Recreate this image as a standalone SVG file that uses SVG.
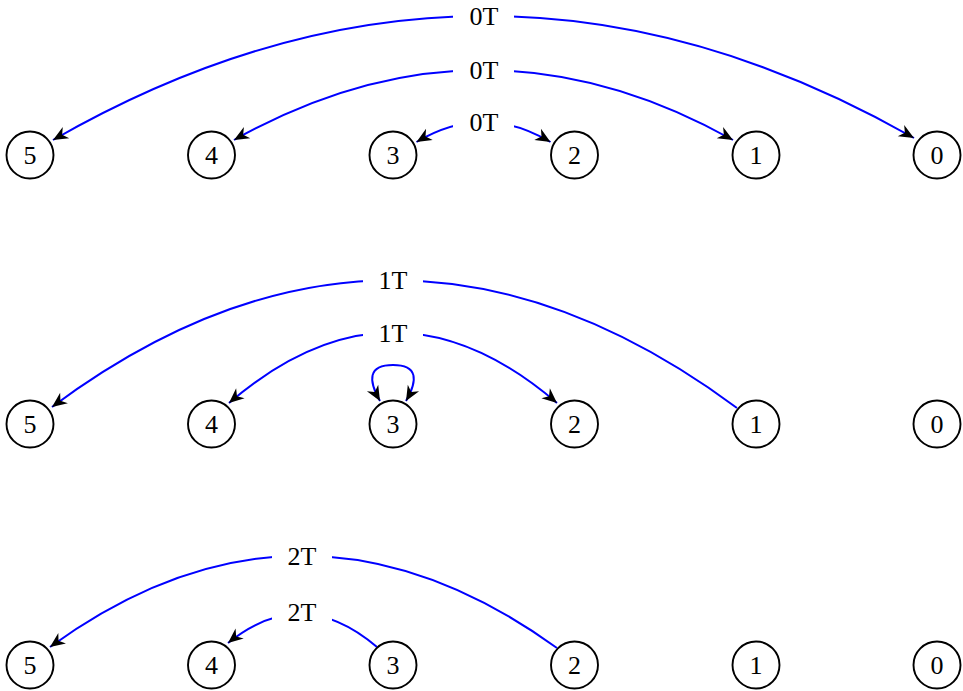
<svg xmlns="http://www.w3.org/2000/svg" width="963" height="691" viewBox="0 0 963 691">
<defs>
<marker id="arr" markerUnits="userSpaceOnUse" viewBox="-17 -10 20 20" refX="0" refY="0" markerWidth="20" markerHeight="20" orient="auto-start-reverse" overflow="visible">
<path d="M0,0 L-15,-6.5 L-10.5,0 L-15,6.5 Z" fill="#000"/>
</marker>
<style>
.node circle{fill:#fff;stroke:#000;stroke-width:1.9}
.node text,.lbl text{font-family:"Liberation Serif","Times New Roman",serif;font-size:26px;fill:#000;text-anchor:middle}
.e{fill:none;stroke:#0000ff;stroke-width:2}
.lbl rect{fill:#fff}
</style>
</defs>
<rect width="963" height="691" fill="#fff"/>
<g id="connectors">
<path class="e" d="M914,138 Q483.5,-107 53,140" marker-start="url(#arr)" marker-end="url(#arr)"/>
<path class="e" d="M733,140 Q483.5,0 234,140" marker-start="url(#arr)" marker-end="url(#arr)"/>
<path class="e" d="M550.5,142 Q483.5,102 416.5,142" marker-start="url(#arr)" marker-end="url(#arr)"/>
<path class="e" d="M737,408 Q393,153 52,407" marker-end="url(#arr)"/>
<path class="e" d="M557,403 Q393,262 229,403" marker-start="url(#arr)" marker-end="url(#arr)"/>
<path class="e" d="M380,401 C368,380 368,365 393,365 C418,365 418,380 406,401" marker-start="url(#arr)" marker-end="url(#arr)"/>
<path class="e" d="M557,648 Q302,464 50,647" marker-end="url(#arr)"/>
<path class="e" d="M377,647 Q302,583 228,643" marker-end="url(#arr)"/>
</g>
<g id="labels" class="lbl">
<g id="l0a"><rect x="453" y="4" width="61" height="24"/><text x="484" y="25">0T</text></g>
<g id="l0b"><rect x="453" y="58" width="61" height="24"/><text x="484" y="79">0T</text></g>
<g id="l0c"><rect x="453" y="110" width="61" height="24"/><text x="484" y="131">0T</text></g>
<g id="l1a"><rect x="363" y="268" width="60" height="24"/><text x="393" y="289">1T</text></g>
<g id="l1b"><rect x="363" y="321" width="60" height="24"/><text x="393" y="342">1T</text></g>
<g id="l2a"><rect x="272" y="544" width="60" height="24"/><text x="302" y="565">2T</text></g>
<g id="l2b"><rect x="272" y="600" width="60" height="24"/><text x="302" y="621">2T</text></g>
</g>
<g id="r1n5" class="node"><circle cx="30" cy="155" r="23.5"/><text x="30" y="164">5</text></g>
<g id="r1n4" class="node"><circle cx="211.5" cy="155" r="23.5"/><text x="211.5" y="164">4</text></g>
<g id="r1n3" class="node"><circle cx="393" cy="155" r="23.5"/><text x="393" y="164">3</text></g>
<g id="r1n2" class="node"><circle cx="574.5" cy="155" r="23.5"/><text x="574.5" y="164">2</text></g>
<g id="r1n1" class="node"><circle cx="756" cy="155" r="23.5"/><text x="756" y="164">1</text></g>
<g id="r1n0" class="node"><circle cx="937" cy="155" r="23.5"/><text x="937" y="164">0</text></g>
<g id="r2n5" class="node"><circle cx="30" cy="424" r="23.5"/><text x="30" y="433">5</text></g>
<g id="r2n4" class="node"><circle cx="211.5" cy="424" r="23.5"/><text x="211.5" y="433">4</text></g>
<g id="r2n3" class="node"><circle cx="393" cy="424" r="23.5"/><text x="393" y="433">3</text></g>
<g id="r2n2" class="node"><circle cx="574.5" cy="424" r="23.5"/><text x="574.5" y="433">2</text></g>
<g id="r2n1" class="node"><circle cx="756" cy="424" r="23.5"/><text x="756" y="433">1</text></g>
<g id="r2n0" class="node"><circle cx="937" cy="424" r="23.5"/><text x="937" y="433">0</text></g>
<g id="r3n5" class="node"><circle cx="30" cy="665" r="23.5"/><text x="30" y="674">5</text></g>
<g id="r3n4" class="node"><circle cx="211.5" cy="665" r="23.5"/><text x="211.5" y="674">4</text></g>
<g id="r3n3" class="node"><circle cx="393" cy="665" r="23.5"/><text x="393" y="674">3</text></g>
<g id="r3n2" class="node"><circle cx="574.5" cy="665" r="23.5"/><text x="574.5" y="674">2</text></g>
<g id="r3n1" class="node"><circle cx="756" cy="665" r="23.5"/><text x="756" y="674">1</text></g>
<g id="r3n0" class="node"><circle cx="937" cy="665" r="23.5"/><text x="937" y="674">0</text></g>
</svg>
